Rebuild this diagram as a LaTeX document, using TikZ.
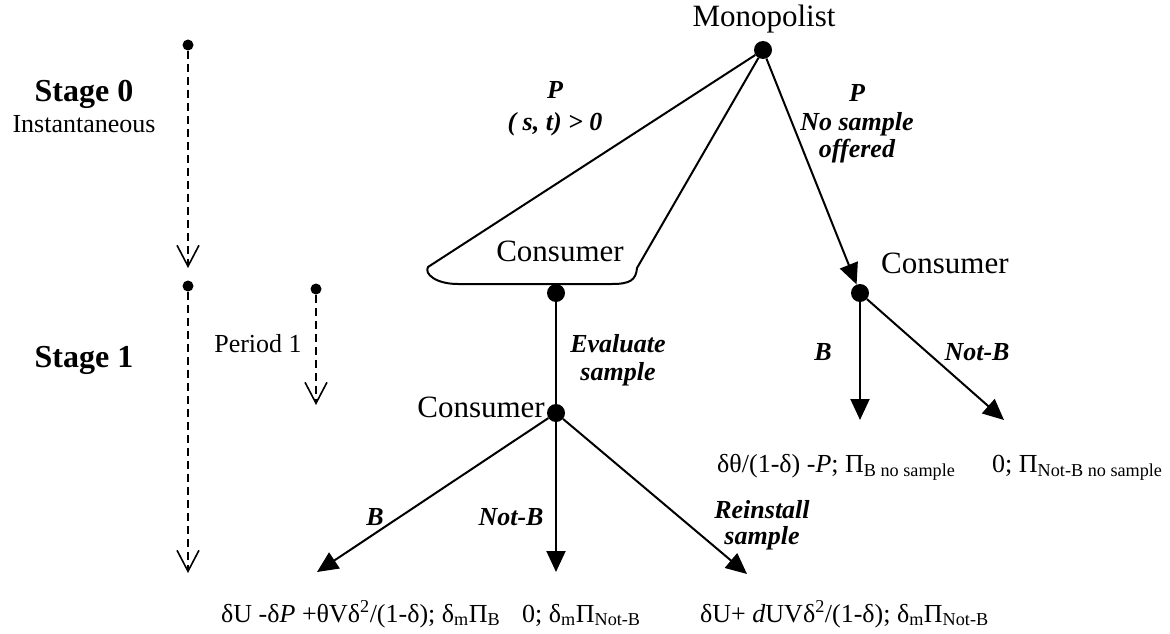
\documentclass[tikz,border=0pt]{standalone}
\usepackage{fontspec}
\setmainfont{Liberation Serif}
\usetikzlibrary{arrows.meta}
\begin{document}
\begin{tikzpicture}[x=1pt,y=-1pt,
  dot/.style={circle,fill=black,inner sep=0pt,minimum size=18pt},
  tdot/.style={circle,fill=black,inner sep=0pt,minimum size=11pt},
  big/.style={font=\fontsize{31}{36}\selectfont,inner sep=0pt},
  lab/.style={font=\fontsize{26}{28}\selectfont\bfseries\itshape,inner sep=0pt},
  pay/.style={font=\fontsize{26}{30}\selectfont,inner sep=0pt},
  plain/.style={font=\fontsize{26}{30}\selectfont,inner sep=0pt},
  stage/.style={font=\fontsize{32}{36}\selectfont\bfseries,inner sep=0pt},
  edge/.style={line width=2pt},
  arr/.style={edge,-{Triangle[length=21pt,width=19pt]}},
  tline/.style={line width=1.6pt,dash pattern=on 8pt off 5pt,-{Straight Barb[length=21pt,width=22pt]}},
]
\useasboundingbox (0,0) rectangle (1170,634);

% timeline
\node[tdot] (t0) at (188,45) {};
\coordinate (t0e) at (188,268);
\node[tdot] (t1) at (188,286) {};
\coordinate (t1e) at (188,573);
\node[tdot] (p1) at (316,289) {};
\coordinate (p1e) at (316,405);
\draw[tline] (t0) -- (t0e);
\draw[tline] (t1) -- (t1e);
\draw[tline] (p1) -- (p1e);

\node[stage,anchor=base] (s0) at (84,101) {Stage 0};
\node[plain,anchor=base] (inst) at (84,132) {Instantaneous};
\node[stage,anchor=base] (s1) at (84,367) {Stage 1};
\node[plain,anchor=base] (per) at (258,352) {Period 1};

% tree nodes
\node[dot] (m) at (763,50) {};
\node[dot] (c1) at (556,293) {};
\node[dot] (c2) at (556,413) {};
\node[dot] (c3) at (860,293) {};

\node[big,anchor=base] (mt) at (764,27) {Monopolist};
\node[big,anchor=base] (c1t) at (560,261) {Consumer};
\node[big,anchor=base east] (c2t) at (545,417) {Consumer};
\node[big,anchor=base west] (c3t) at (881,273) {Consumer};

% information set
\coordinate (L) at (428,267);
\coordinate (R) at (637,268);
\draw[edge,line join=round] (m) -- (L) .. controls (424,274) and (436,284) .. (458,284)
  -- (612,284) .. controls (630,284) and (636,280) .. (R) -- (m);

\draw[arr] (m) -- (c3);
\draw[edge] (c1) -- (c2);

\coordinate (e1) at (317,572);
\coordinate (e2) at (556,572);
\coordinate (e3) at (747,574);
\coordinate (e4) at (860,420);
\coordinate (e5) at (1004,420);
\draw[arr] (c2) -- (e1);
\draw[arr] (c2) -- (e2);
\draw[arr] (c2) -- (e3);
\draw[arr] (c3) -- (e4);
\draw[arr] (c3) -- (e5);

% labels
\node[lab,anchor=base] (lp1) at (555,98) {P};
\node[lab,anchor=base] (lp2) at (555,130) {( s, t) > 0};
\node[lab,anchor=base] (rp1) at (857,102) {P};
\node[lab,anchor=base] (rp2) at (857,130) {No sample};
\node[lab,anchor=base] (rp3) at (857,157) {offered};
\node[lab,anchor=base] (ev1) at (618,352) {Evaluate};
\node[lab,anchor=base] (ev2) at (618,380) {sample};
\node[lab,anchor=base] (lb) at (375,525) {B};
\node[lab,anchor=base] (lnb) at (511,525) {Not-B};
\node[lab,anchor=base] (re1) at (762,518) {Reinstall};
\node[lab,anchor=base] (re2) at (762,544) {sample};
\node[lab,anchor=base] (rb) at (823,360) {B};
\node[lab,anchor=base] (rnb) at (977,360) {Not-B};

% payoffs
\node[pay,anchor=base west] (pa) at (221,622) {δU -δ\textit{P} +θVδ\textsuperscript{2}/(1-δ); δ\textsubscript{m}Π\textsubscript{B}};
\node[pay,anchor=base west] (pb) at (522,622) {0; δ\textsubscript{m}Π\textsubscript{Not-B}};
\node[pay,anchor=base west] (pc) at (700,622) {δU+ \textit{d}UVδ\textsuperscript{2}/(1-δ); δ\textsubscript{m}Π\textsubscript{Not-B}};
\node[pay,anchor=base west] (pd) at (717,472) {δθ/(1-δ) -\textit{P}; Π\textsubscript{B no sample}};
\node[pay,anchor=base west] (pe) at (992,472) {0; Π\textsubscript{Not-B no sample}};
\end{tikzpicture}
\end{document}
